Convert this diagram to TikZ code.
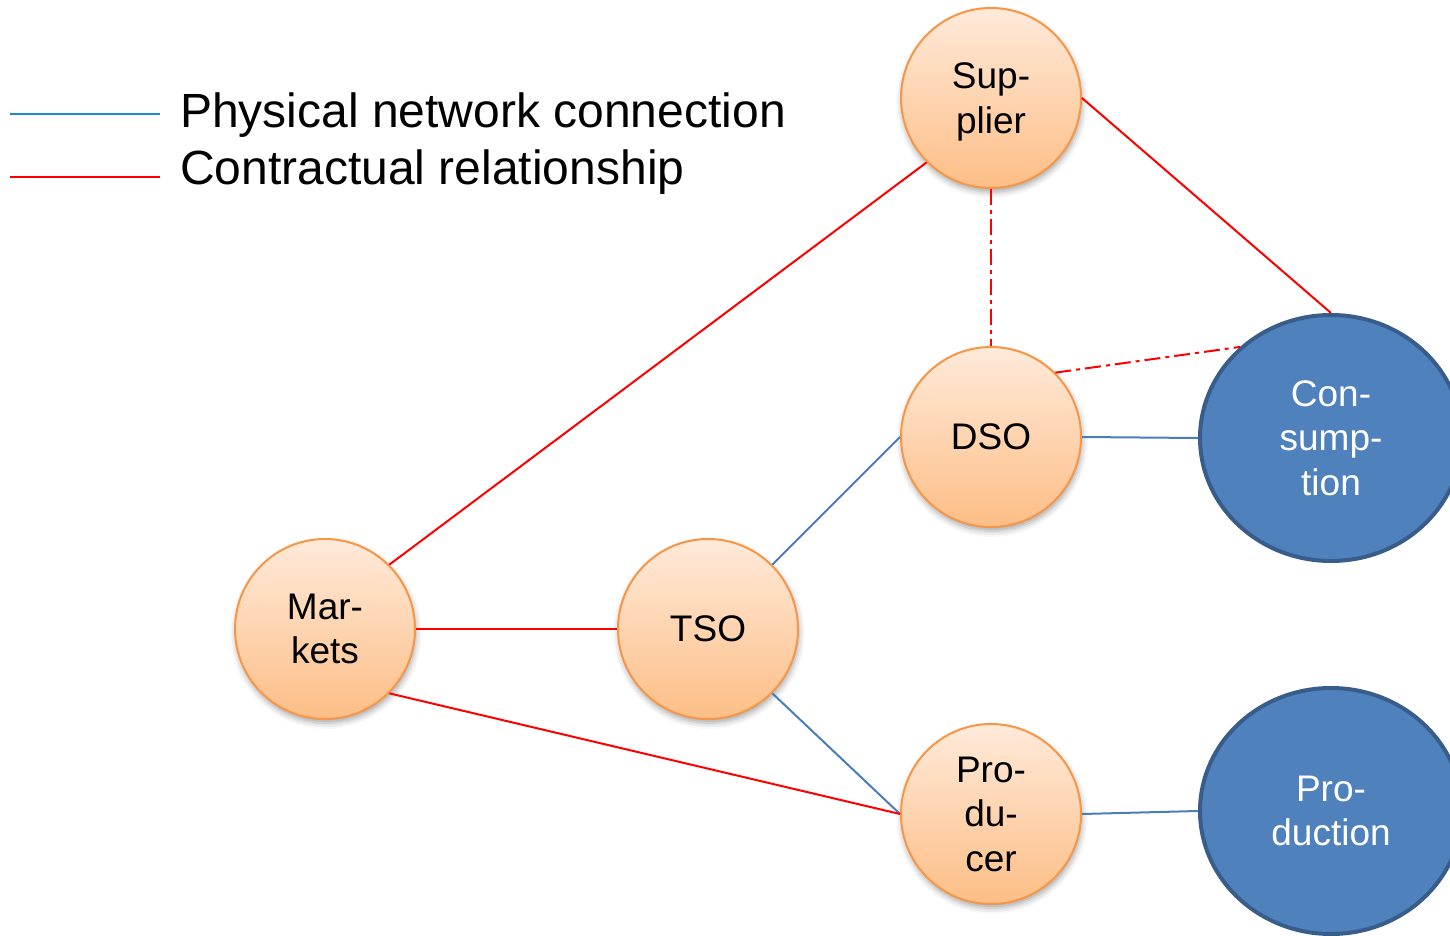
\documentclass[tikz,border=0pt]{standalone}
\usepackage{fontspec}
\setmainfont{Liberation Sans}
\usetikzlibrary{shapes.geometric,shadows.blur}

\definecolor{peachtop}{RGB}{255,234,218}
\definecolor{peachbot}{RGB}{253,190,134}
\definecolor{peachline}{RGB}{247,150,70}
\definecolor{bluefill}{RGB}{79,129,189}
\definecolor{blueline}{RGB}{56,93,138}
\definecolor{netblue}{RGB}{74,126,187}
\definecolor{legblue}{RGB}{31,140,200}
\definecolor{contred}{RGB}{255,0,0}

\tikzset{
  actor/.style={circle, minimum size=180pt, inner sep=0pt,
    draw=peachline, line width=2pt,
    top color=peachtop, bottom color=peachbot,
    blur shadow={shadow xshift=1pt, shadow yshift=-4pt,
                 shadow blur radius=6pt, shadow opacity=35},
    align=center, text depth=0pt,
    font=\fontsize{37}{44.5}\selectfont, text=black},
  grid/.style={ellipse, minimum width=262pt, minimum height=246pt,
    inner sep=0pt, draw=blueline, line width=4pt, fill=bluefill,
    align=center, text depth=0pt,
    font=\fontsize{37}{44.5}\selectfont, text=white},
  physical/.style={draw=netblue, line width=2pt},
  contract/.style={draw=contred, line width=2pt},
  contractdd/.style={draw=contred, line width=2pt,
    dash pattern=on 16pt off 5pt on 4pt off 5pt},
  legendtext/.style={anchor=base west, inner sep=0pt,
    font=\fontsize{48}{56}\selectfont}
}

\begin{document}
\begin{tikzpicture}[x=1pt, y=-1pt]
\clip (0,0) rectangle (1450,936);

% legend
\coordinate (lb1) at (10,114);
\coordinate (lb2) at (160,114);
\coordinate (lr1) at (10,177);
\coordinate (lr2) at (160,177);
\draw[draw=legblue, line width=2pt] (lb1) -- (lb2);
\draw[contract] (lr1) -- (lr2);
\node[legendtext] (legphys) at (180,128) {Physical network connection};
\node[legendtext] (legcont) at (180,185) {Contractual relationship};

% market actors
\node[actor] (sup) at (991,98)  {Sup-\\plier};
\node[actor] (dso) at (991,437) {DSO};
\node[actor] (tso) at (708,629) {TSO};
\node[actor] (mkt) at (325,629) {Mar-\\kets};
\node[actor] (pro) at (991,814) {Pro-\\du-\\cer};

% grid ends
\node[grid] (cons) at (1331,438) {Con-\\sump-\\tion};
\node[grid] (prod) at (1331,811) {Pro-\\duction};

% physical network connections
\draw[physical] (tso.45)  -- (dso.west);
\draw[physical] (tso.-45) -- (pro.west);
\draw[physical] (dso.east) -- (cons.west);
\draw[physical] (pro.east) -- (prod.west);

% contractual relationships
\draw[contract] (mkt.45)  -- (sup.225);
\draw[contract] (mkt.east) -- (tso.west);
\draw[contract] (mkt.-45) -- (pro.west);
\draw[contract] (sup.east) -- (cons.north);
\draw[contractdd] (sup.south) -- (dso.north);
\draw[contractdd] (dso.45) -- (cons.135);
\end{tikzpicture}
\end{document}
